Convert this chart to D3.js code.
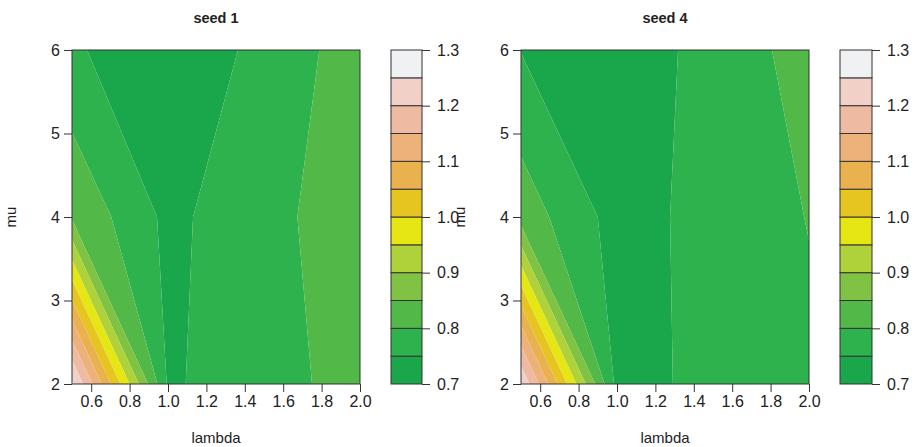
<!DOCTYPE html>
<html>
<head>
<meta charset="utf-8">
<script src="https://cdn.jsdelivr.net/npm/d3@7"></script>
<style>
  html, body { margin: 0; padding: 0; background: #fff; }
  svg { display: block; }
  text { font-family: "Liberation Sans", Arial, Helvetica, sans-serif; fill: #222; }
</style>
</head>
<body>
<svg id="chart" width="916" height="447"></svg>
<script>
// ---- data ----
const lambdaGrid = [0.5, 1.0, 2.0];
const muGrid = [2, 4, 6];
// rows: mu = 2, 4, 6 ; columns: lambda = 0.5, 1.0, 2.0
const seed1Values = [
  [1.26, 0.743, 0.819],
  [0.843, 0.738, 0.830],
  [0.758, 0.707, 0.825]
];
const seed4Values = [
  [1.245, 0.734, 0.789],
  [0.829, 0.7302, 0.8018],
  [0.7486, 0.7175, 0.8197]
];
const panelTitles = ["seed 1", "seed 4"];
const levels = [0.70, 0.75, 0.80, 0.85, 0.90, 0.95, 1.00, 1.05, 1.10, 1.15, 1.20, 1.25, 1.30];
const bandColors = ["#1aa64a", "#2db24d", "#52b848", "#80c244", "#afd23a", "#e6e614",
                    "#e6c520", "#e9b24f", "#ecb27a", "#eebba2", "#f1d0c8", "#eff1f3"];
const xTickValues = [0.6, 0.8, 1.0, 1.2, 1.4, 1.6, 1.8, 2.0];
const yTickValues = [2, 3, 4, 5, 6];
const barTickValues = [0.7, 0.8, 0.9, 1.0, 1.1, 1.2, 1.3];

// ---- layout ----
const panels = [
  { values: seed1Values, title: panelTitles[0], left: 72, right: 360, barLeft: 391, barRight: 422 },
  { values: seed4Values, title: panelTitles[1], left: 521, right: 809, barLeft: 840, barRight: 872 }
];
const plotTop = 50, plotBottom = 384;
const svg = d3.select("#chart");

function clipPoly(poly, lev, keepAbove) {
  const out = [];
  const n = poly.length;
  for (let i = 0; i < n; i++) {
    const a = poly[i], b = poly[(i + 1) % n];
    const ina = keepAbove ? a.v >= lev : a.v <= lev;
    const inb = keepAbove ? b.v >= lev : b.v <= lev;
    if (ina) out.push(a);
    if (ina !== inb) {
      const t = (lev - a.v) / (b.v - a.v);
      out.push({ x: a.x + t * (b.x - a.x), y: a.y + t * (b.y - a.y), v: lev });
    }
  }
  return out;
}

panels.forEach(p => {
  const x = d3.scaleLinear().domain([0.5, 2.0]).range([p.left, p.right]);
  const y = d3.scaleLinear().domain([2, 6]).range([plotBottom, plotTop]);
  const g = svg.append("g");

  // filled contour, cell by cell
  const polys = [];
  for (let j = 0; j < muGrid.length - 1; j++) {
    for (let i = 0; i < lambdaGrid.length - 1; i++) {
      const cell = [
        { x: lambdaGrid[i], y: muGrid[j], v: p.values[j][i] },
        { x: lambdaGrid[i + 1], y: muGrid[j], v: p.values[j][i + 1] },
        { x: lambdaGrid[i + 1], y: muGrid[j + 1], v: p.values[j + 1][i + 1] },
        { x: lambdaGrid[i], y: muGrid[j + 1], v: p.values[j + 1][i] }
      ];
      for (let k = 0; k < levels.length - 1; k++) {
        let poly = clipPoly(cell, levels[k], true);
        if (poly.length < 3) continue;
        poly = clipPoly(poly, levels[k + 1], false);
        if (poly.length < 3) continue;
        polys.push({ pts: poly, color: bandColors[k] });
      }
    }
  }
  g.selectAll("path.band").data(polys).join("path")
    .attr("class", "band")
    .attr("d", d => "M" + d.pts.map(q => x(q.x) + "," + y(q.y)).join("L") + "Z")
    .attr("fill", d => d.color)
    .attr("stroke", "none");

  // box
  g.append("rect")
    .attr("x", p.left).attr("y", plotTop)
    .attr("width", p.right - p.left).attr("height", plotBottom - plotTop)
    .attr("fill", "none").attr("stroke", "#333").attr("stroke-width", 1);

  // axes
  const xAxis = g.append("g").attr("transform", `translate(0,${plotBottom})`)
    .call(d3.axisBottom(x).tickValues(xTickValues).tickFormat(d3.format(".1f")).tickSize(8).tickPadding(4).tickSizeOuter(0));
  const yAxis = g.append("g").attr("transform", `translate(${p.left},0)`)
    .call(d3.axisLeft(y).tickValues(yTickValues).tickFormat(d3.format("d")).tickSize(8).tickPadding(4).tickSizeOuter(0));
  [xAxis, yAxis].forEach(a => {
    a.select(".domain").remove();
    a.selectAll(".tick line").attr("stroke", "#333");
    a.selectAll(".tick text").style("font-size", "16px").attr("fill", "#222");
  });

  // labels
  const cx = (p.left + p.right) / 2;
  g.append("text").attr("x", cx).attr("y", 23).attr("text-anchor", "middle")
    .style("font-size", "14.5px").style("font-weight", "bold").text(p.title);
  g.append("text").attr("x", cx).attr("y", 443).attr("text-anchor", "middle")
    .style("font-size", "15px").text("lambda");
  g.append("text").attr("transform", `translate(${p.left - 56},${(plotTop + plotBottom) / 2}) rotate(-90)`)
    .attr("text-anchor", "middle").style("font-size", "15px").text("mu");

  // colour bar
  const bs = d3.scaleLinear().domain([0.7, 1.3]).range([plotBottom, plotTop]);
  const bands = d3.range(levels.length - 1).map(k => ({ lo: levels[k], hi: levels[k + 1], color: bandColors[k] }));
  g.selectAll("rect.key").data(bands).join("rect")
    .attr("class", "key")
    .attr("x", p.barLeft).attr("width", p.barRight - p.barLeft)
    .attr("y", d => bs(d.hi)).attr("height", d => bs(d.lo) - bs(d.hi))
    .attr("fill", d => d.color).attr("stroke", "#333").attr("stroke-width", 1);
  const bAxis = g.append("g").attr("transform", `translate(${p.barRight},0)`)
    .call(d3.axisRight(bs).tickValues(barTickValues).tickFormat(d3.format(".1f")).tickSize(8).tickPadding(7).tickSizeOuter(0));
  bAxis.select(".domain").remove();
  bAxis.selectAll(".tick line").attr("stroke", "#333");
  bAxis.selectAll(".tick text").style("font-size", "16px").attr("fill", "#222");
});
</script>
</body>
</html>
